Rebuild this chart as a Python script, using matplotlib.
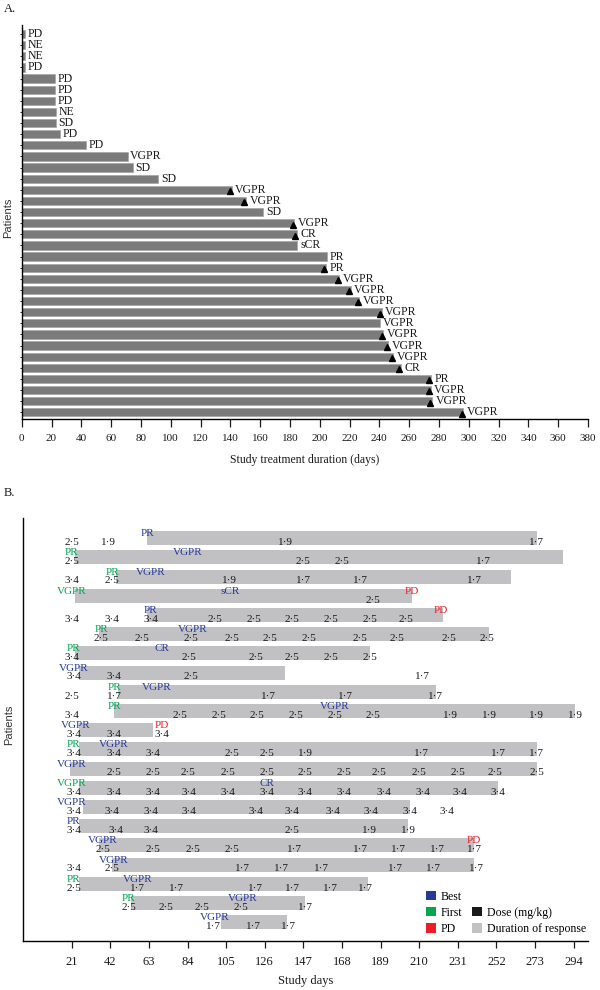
import matplotlib
matplotlib.use('Agg')
import matplotlib.pyplot as plt
from matplotlib.patches import Patch

# ---------------- Panel A data ----------------
a_duration = [2, 2, 2, 2, 22.3, 22.3, 22.3, 23, 23, 25.9, 43.2, 71.1, 74.5, 91.7,
              140.9, 150.5, 162.1, 183, 184.6, 185, 205.1, 204.2, 213.2, 220.8,
              226.6, 241.6, 240.5, 242.7, 246, 249.4, 254.6, 274.5, 274.5, 275.2, 296.4]
a_response = ['PD', 'NE', 'NE', 'PD', 'PD', 'PD', 'PD', 'NE', 'SD', 'PD', 'PD', 'VGPR',
              'SD', 'SD', 'VGPR', 'VGPR', 'SD', 'VGPR', 'CR', 'sCR', 'PR', 'PR', 'VGPR',
              'VGPR', 'VGPR', 'VGPR', 'VGPR', 'VGPR', 'VGPR', 'VGPR', 'CR', 'PR', 'VGPR',
              'VGPR', 'VGPR']
a_ongoing = [0, 0, 0, 0, 0, 0, 0, 0, 0, 0, 0, 0, 0, 0, 1, 1, 0, 1, 1, 0, 0, 1, 1, 1,
             1, 1, 0, 1, 1, 1, 1, 1, 1, 1, 1]
a_xticks = list(range(0, 381, 20))

# ---------------- Panel B data ----------------
b_start = [62, 23, 45, 23, 62, 36, 23, 25, 46, 44, 25, 25, 20, 25, 27, 25, 36, 43, 25, 53, 102]
b_end = [274, 288, 260, 206, 223, 248, 183, 137, 219, 295, 65, 274, 274, 253, 205, 204,
         240, 240, 182, 148, 138]

b_resp_day = [[62], [21, 84], [43, 64], [21, 107, 206], [64, 222], [37, 87], [22, 70], [22],
              [44, 67], [44, 164], [23, 70], [22, 44], [21], [21, 127], [21], [22], [38, 240],
              [44], [22, 57], [52, 114], [99]]
b_resp_text = [['PR'], ['PR', 'VGPR'], ['PR', 'VGPR'], ['VGPR', 'sCR', 'PD'], ['PR', 'PD'],
               ['PR', 'VGPR'], ['PR', 'CR'], ['VGPR'], ['PR', 'VGPR'], ['PR', 'VGPR'],
               ['VGPR', 'PD'], ['PR', 'VGPR'], ['VGPR'], ['VGPR', 'CR'], ['VGPR'], ['PR'],
               ['VGPR', 'PD'], ['VGPR'], ['PR', 'VGPR'], ['PR', 'VGPR'], ['VGPR']]
b_resp_kind = [['Best'], ['First', 'Best'], ['First', 'Best'], ['First', 'Best', 'PD'],
               ['Best', 'PD'], ['First', 'Best'], ['First', 'Best'], ['Best'],
               ['First', 'Best'], ['First', 'Best'], ['Best', 'PD'], ['First', 'Best'],
               ['Best'], ['First', 'Best'], ['Best'], ['Best'], ['Best', 'PD'], ['Best'],
               ['First', 'Best'], ['First', 'Best'], ['Best']]

b_dose_day = [
    [21, 41, 137, 274],
    [21, 147, 168, 245],
    [21, 43, 107, 147, 178, 240],
    [185],
    [21, 43, 64, 99, 120, 141, 162, 183, 203],
    [37, 59, 86, 108, 129, 150, 178, 198, 226, 247],
    [21, 85, 121, 141, 162, 183],
    [22, 44, 86, 212],
    [21, 44, 128, 170, 219],
    [21, 80, 101, 122, 143, 164, 185, 227, 248, 274, 295],
    [22, 44, 70],
    [22, 44, 65, 108, 127, 148, 211, 253, 274],
    [44, 65, 84, 106, 127, 148, 169, 188, 210, 231, 251, 274],
    [22, 44, 65, 85, 106, 127, 148, 169, 191, 212, 232, 253],
    [22, 43, 64, 85, 121, 141, 163, 184, 205, 225],
    [22, 45, 64, 141, 183, 204],
    [38, 65, 87, 108, 142, 178, 199, 220, 240],
    [22, 43, 114, 135, 157, 197, 218, 241],
    [22, 57, 78, 121, 141, 162, 181],
    [52, 72, 92, 113, 148],
    [98, 120, 139],
]
b_dose_val = [
    ['2·5', '1·9', '1·9', '1·7'],
    ['2·5', '2·5', '2·5', '1·7'],
    ['3·4', '2·5', '1·9', '1·7', '1·7', '1·7'],
    ['2·5'],
    ['3·4', '3·4', '3·4', '2·5', '2·5', '2·5', '2·5', '2·5', '2·5'],
    ['2·5'] * 10,
    ['3·4', '2·5', '2·5', '2·5', '2·5', '2·5'],
    ['3·4', '3·4', '2·5', '1·7'],
    ['2·5', '1·7', '1·7', '1·7', '1·7'],
    ['3·4', '2·5', '2·5', '2·5', '2·5', '2·5', '2·5', '1·9', '1·9', '1·9', '1·9'],
    ['3·4', '3·4', '3·4'],
    ['3·4', '3·4', '3·4', '2·5', '2·5', '1·9', '1·7', '1·7', '1·7'],
    ['2·5'] * 12,
    ['3·4'] * 12,
    ['3·4'] * 10,
    ['3·4', '3·4', '3·4', '2·5', '1·9', '1·9'],
    ['2·5', '2·5', '2·5', '2·5', '1·7', '1·7', '1·7', '1·7', '1·7'],
    ['3·4', '2·5', '1·7', '1·7', '1·7', '1·7', '1·7', '1·7'],
    ['2·5', '1·7', '1·7', '1·7', '1·7', '1·7', '1·7'],
    ['2·5', '2·5', '2·5', '2·5', '1·7'],
    ['1·7', '1·7', '1·7'],
]
b_xticks = list(range(21, 295, 21))
legend_labels = ['Best', 'First', 'PD', 'Dose (mg/kg)', 'Duration of response']

# ---------------- Styles ----------------
SERIF = ['Liberation Serif', 'DejaVu Serif']
SANS = ['Liberation Sans', 'DejaVu Sans']
plt.rcParams['font.family'] = SERIF
kind_color = {'Best': '#26399a', 'First': '#00a651', 'PD': '#ee1c25'}
BAR_A = '#7b7b7b'
BAR_B = '#c1c1c4'
TXT = '#1a1a1a'

fig = plt.figure(figsize=(6, 9.9), dpi=100)

# ---------------- Panel A ----------------
axA = fig.add_axes([0.0362, 0.5768, 0.98 - 0.0362, 0.9747 - 0.5768])
rows = list(range(len(a_duration)))
axA.barh(rows, a_duration, height=0.74, color=BAR_A, edgecolor='#a5a5a5', linewidth=0.5)
for i, (d, r, o) in enumerate(zip(a_duration, a_response, a_ongoing)):
    if o:
        axA.plot([d - 1.2], [i + 0.12], marker='^', color='black', markersize=3.8,
                 linestyle='none')
        xt = d + 2.4
    else:
        xt = d + 1.8
    axA.text(xt, i, r, ha='left', va='center', fontsize=8.5, color=TXT)
axA.set_xlim(0, 380)
axA.set_ylim(34.6, -0.81)
axA.set_xticks(a_xticks)
axA.set_yticks(rows)
axA.set_yticklabels([])
axA.tick_params(axis='x', length=5.5, width=0.9, pad=5, labelsize=8, colors=TXT)
axA.tick_params(axis='y', length=1.5, width=0.6)
for s in ['top', 'right']:
    axA.spines[s].set_visible(False)
for s in ['left', 'bottom']:
    axA.spines[s].set_linewidth(1.0)
axA.set_xlabel('Study treatment duration (days)', fontsize=8.5, labelpad=8, color=TXT)
axA.set_ylabel('Patients', fontsize=8, family=SANS, color='#333333')
axA.yaxis.set_label_coords(-0.0154, 0.51)

# ---------------- Panel B ----------------
axB = fig.add_axes([0.0378, 0.0498, 0.9805 - 0.0378, 0.4768 - 0.0498])
nB = len(b_start)
rowsB = list(range(nB))
axB.barh(rowsB, [e - s for s, e in zip(b_start, b_end)], left=b_start, height=0.73,
         color=BAR_B, linewidth=0)
for i in rowsB:
    for d, t in zip(b_dose_day[i], b_dose_val[i]):
        axB.text(d, i + 0.22, t, ha='center', va='center', fontsize=8, color=TXT)
    for d, t, k in zip(b_resp_day[i], b_resp_text[i], b_resp_kind[i]):
        axB.text(d, i - 0.24, t, ha='center', va='center', fontsize=8,
                 color=kind_color[k])
axB.set_xlim(-5.7, 302)
axB.set_ylim(20.96, -1.057)
axB.set_xticks(b_xticks)
axB.set_yticks([])
axB.tick_params(axis='x', length=5, width=0.9, pad=6, labelsize=9, colors=TXT)
for s in ['top', 'right']:
    axB.spines[s].set_visible(False)
for s in ['left', 'bottom']:
    axB.spines[s].set_linewidth(1.0)
axB.set_xlabel('Study days', fontsize=9, labelpad=5, color=TXT)
axB.set_ylabel('Patients', fontsize=8, family=SANS, color='#333333')
axB.yaxis.set_label_coords(-0.0154, 0.51)

handles = [Patch(facecolor=kind_color['Best'], edgecolor='none'),
           Patch(facecolor=kind_color['First'], edgecolor='none'),
           Patch(facecolor=kind_color['PD'], edgecolor='none'),
           Patch(facecolor='none', edgecolor='none'),
           Patch(facecolor='#1a1a1a', edgecolor='none'),
           Patch(facecolor=BAR_B, edgecolor='none')]
labels = legend_labels[:3] + [''] + legend_labels[3:]
axB.legend(handles, labels, ncol=2, loc='upper left',
           bbox_to_anchor=(426.0 / 600, 1 - 890.5 / 990), bbox_transform=fig.transFigure,
           frameon=False, fontsize=8.5, handlelength=0.85, handleheight=0.85,
           handletextpad=0.4, labelspacing=0.36, columnspacing=0.8, borderpad=0,
           borderaxespad=0)

fig.text(3.5 / 600, 1 - 3 / 990, 'A.', ha='left', va='top', fontsize=9, color=TXT)
fig.text(3.5 / 600, 1 - 487 / 990, 'B.', ha='left', va='top', fontsize=9, color=TXT)

fig.savefig('out.png', dpi=100)
